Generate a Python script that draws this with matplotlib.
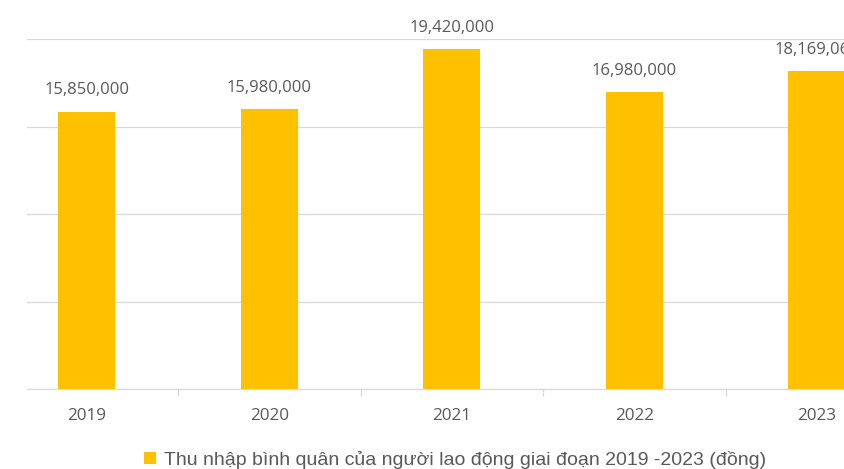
import matplotlib
matplotlib.use("Agg")
import matplotlib.pyplot as plt
from matplotlib.patches import Patch

years = ["2019", "2020", "2021", "2022", "2023"]
income = [15850000, 15980000, 19420000, 16980000, 18169060]
legend_label = "Thu nhập bình quân của người lao động giai đoạn 2019 -2023 (đồng)"

BAR = "#FFC000"
GRID = "#D9D9D9"
TXT = "#595959"

W, H = 845, 469
fig = plt.figure(figsize=(W / 100, H / 100), dpi=100)
# plot area: left at 27px, top at 39px, bottom at 389px, extends to right edge
ax = fig.add_axes([27 / W, (H - 389) / H, (W - 27) / W, 350 / H])

x = list(range(len(years)))
ax.bar(x, income, width=0.312, color=BAR, zorder=3)

ax.set_xlim((27 - 86.8) / 182.5, (845 - 86.8) / 182.5)
ax.set_ylim(0, 20000000)
ax.set_yticks([0, 5000000, 10000000, 15000000, 20000000])
ax.yaxis.grid(True, color=GRID, linewidth=0.9, zorder=0)
ax.tick_params(axis="y", left=False, labelleft=False)

ax.set_xticks(x)
ax.set_xticklabels(years, fontfamily="Open Sans", fontsize=12.3, color=TXT)
ax.set_xticks([i + 0.5 for i in range(len(years) - 1)], minor=True)
ax.tick_params(axis="x", which="major", length=0, pad=14)
ax.tick_params(axis="x", which="minor", length=5, color=GRID, width=0.9)

for s in ["top", "right", "left"]:
    ax.spines[s].set_visible(False)
ax.spines["bottom"].set_color(GRID)
ax.spines["bottom"].set_linewidth(0.9)

for xi, v in zip(x, income):
    ax.annotate(f"{v:,}", (xi, v), xytext=(0, 9.5), textcoords="offset points",
                ha="center", va="bottom", fontfamily="Open Sans", fontsize=12,
                color=TXT, annotation_clip=False)

leg = fig.legend(handles=[Patch(facecolor=BAR, edgecolor="none", label=legend_label)],
                 loc="center", bbox_to_anchor=(455 / W, (H - 460) / H),
                 frameon=False, handlelength=0.6, handleheight=0.6,
                 handletextpad=0.4, prop={"family": "Liberation Sans", "size": 14})
for t in leg.get_texts():
    t.set_color(TXT)

fig.savefig("out.png", dpi=100)
